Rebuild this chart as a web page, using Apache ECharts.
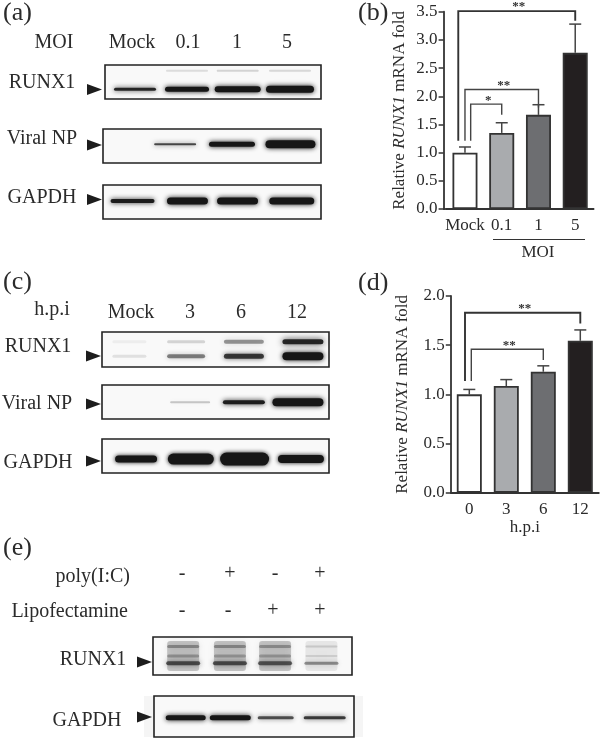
<!DOCTYPE html>
<html>
<head>
<meta charset="utf-8">
<title>RUNX1</title>
<script src="https://cdn.jsdelivr.net/npm/echarts@6/dist/echarts.min.js"></script>
<style>
html,body{margin:0;padding:0;background:#fff}
#chart{width:608px;height:739px}
</style>
</head>
<body>
<div id="chart"></div>
<script>
// bar panels
var moiLabels = ['Mock', '0.1', '1', '5'];
var moiMeans = [1.0, 1.35, 1.67, 2.77];
var moiErrTops = [1.1, 1.53, 1.85, 3.28];
var hpiLabels = ['0', '3', '6', '12'];
var hpiMeans = [1.0, 1.085, 1.23, 1.545];
var hpiErrTops = [1.05, 1.15, 1.29, 1.655];
var barColors = ['#ffffff', '#a9abae', '#6d6e71', '#231f20'];

// significance brackets: from bar, to bar, left foot, top, right foot, stars
var moiBrackets = [
    [0, 3, 1.21, 3.51, 3.34, '**'],
    [0, 2, 1.21, 2.12, 1.80, '**'],
    [0, 1, 1.21, 1.86, 1.67, '*']
];
var hpiBrackets = [
    [0, 3, 1.135, 1.83, 1.72, '**'],
    [0, 2, 1.135, 1.458, 1.35, '**']
];

// blot band darkness per lane, read by eye
var aRunx1Upper = [0.0, 0.12, 0.16, 0.14];
var aRunx1Main = [0.9, 1, 1, 1];
var aNp = [0, 0.75, 1, 1];
var aGapdh = [0.95, 1, 1, 1];
var cRunx1Upper = [0.05, 0.16, 0.42, 0.9];
var cRunx1Lower = [0.1, 0.5, 0.8, 1];
var cNp = [0, 0.22, 0.95, 1];
var cGapdh = [1, 1, 1, 1];
var eRunx1Upper = [0.34, 0.34, 0.3, 0.14];
var eRunx1Mid = [0.28, 0.26, 0.26, 0.12];
var eRunx1Main = [0.66, 0.66, 0.62, 0.42];
var eRunx1Haze = [0.22, 0.22, 0.22, 0.08];
var eGapdh = [1, 1, 0.7, 0.8];

var serif = '"Liberation Serif", "Times New Roman", serif';
var ink = '#2b2b2b';

// box = left, top, width, height; nudge = lane shift in px; rows = one band per lane
var blots = [
    {box: [105, 65, 216, 34], nudge: [3, 1, -2.3, -4], rows: [
        {at: 0.17, vals: aRunx1Upper, thick: [2, 2, 2, 2], wide: [42, 42, 42, 42], blur: 5},
        {at: 0.71, vals: aRunx1Main, thick: [3, 5, 6, 7], wide: [42, 44, 46, 48], blur: 5}
    ]},
    {box: [103, 129, 218, 34], nudge: [0, -9.6, -7.3, -3.3], rows: [
        {at: 0.45, vals: aNp, thick: [1, 2, 5, 8], wide: [40, 42, 46, 50], blur: 5}
    ]},
    {box: [103, 185, 218, 34], nudge: [2.3, 2.7, -1.7, -2], rows: [
        {at: 0.47, vals: aGapdh, thick: [4, 7, 7, 7], wide: [44, 41, 41, 45], blur: 5}
    ]},
    {box: [102, 332, 227, 35], nudge: [-1, -1, 0, 2.3], rows: [
        {at: 0.28, vals: cRunx1Upper, thick: [3, 3, 4, 5], wide: [34, 38, 40, 41], blur: 6},
        {at: 0.69, vals: cRunx1Lower, thick: [3, 4, 5, 8], wide: [34, 38, 40, 41], blur: 5}
    ]},
    {box: [102, 385, 227, 34], nudge: [0, 3, 0, -2.7], rows: [
        {at: 0.51, vals: cNp, thick: [1, 2, 4, 8], wide: [40, 40, 42, 51], blur: 5}
    ]},
    {box: [102, 439, 227, 34], nudge: [5.7, 3.7, 0.7, 0.3], rows: [
        {at: 0.59, vals: cGapdh, thick: [7, 11, 13, 8], wide: [42, 46, 49, 46], blur: 4}
    ]},
    {box: [153, 637, 199, 38], nudge: [5.3, 2.3, -2.3, -5.7], rows: [
        {at: 0.5, vals: eRunx1Haze, thick: [30, 30, 30, 30], wide: [32, 32, 32, 32], blur: 8, square: true},
        {at: 0.25, vals: eRunx1Upper, thick: [3, 3, 3, 2], wide: [32, 32, 32, 32], blur: 5},
        {at: 0.5, vals: eRunx1Mid, thick: [3, 3, 3, 2], wide: [32, 32, 32, 32], blur: 5},
        {at: 0.69, vals: eRunx1Main, thick: [4, 4, 4, 3], wide: [34, 34, 34, 34], blur: 5}
    ]},
    {box: [154, 696, 200, 41], nudge: [6.7, 1.3, -3.3, -4.3], rows: [
        {at: 0.53, vals: eGapdh, thick: [5, 5, 3, 3], wide: [40, 41, 36, 42], blur: 5}
    ]}
];

var grids = [
    {left: 446.6, top: 11.7, width: 147, height: 197.3},
    {left: 450.8, top: 296, width: 148, height: 196.7}
];
var xAxes = [
    barXAxis(0, moiLabels, '', 0),
    barXAxis(1, hpiLabels, 'h.p.i', 25)
];
var yAxes = [
    barYAxis(0, 3.5, 3, 36),
    barYAxis(1, 2, 0, 40)
];
var series = [
    barSeries(0, moiMeans),
    errSeries(0, moiMeans, moiErrTops),
    bracketSeries(0, moiBrackets, [[-6.7, 0], [0, 0], [5.7, 0]]),
    barSeries(1, hpiMeans),
    errSeries(1, hpiMeans, hpiErrTops),
    bracketSeries(1, hpiBrackets, [[-4.3, 0], [2, 0]])
];

function barXAxis(idx, labels, name, gap) {
    return {
        gridIndex: idx,
        type: 'category',
        data: labels,
        name: name,
        nameLocation: 'middle',
        nameGap: gap,
        nameTextStyle: {fontFamily: serif, fontSize: 17, color: ink},
        axisLine: {lineStyle: {color: '#333', width: 1.8}},
        axisTick: {alignWithLabel: true, length: 4, lineStyle: {color: '#333', width: 1.5}},
        axisLabel: {fontFamily: serif, fontSize: 17, color: ink, margin: 8, interval: 0}
    };
}

function barYAxis(idx, max, off, gap) {
    return {
        gridIndex: idx,
        type: 'value',
        min: 0,
        max: max,
        interval: 0.5,
        offset: off,
        name: '{r|Relative }{i|RUNX1}{r| mRNA fold}',
        nameLocation: 'middle',
        nameRotate: 90,
        nameGap: gap,
        nameTextStyle: {
            rich: {
                r: {fontFamily: serif, fontSize: 17, color: ink},
                i: {fontFamily: serif, fontSize: 17, color: ink, fontStyle: 'italic'}
            }
        },
        splitLine: {show: false},
        axisLine: {show: true, lineStyle: {color: '#333', width: 1.8}},
        axisTick: {show: true, length: 5, lineStyle: {color: '#333', width: 1.5}},
        axisLabel: {
            fontFamily: serif, fontSize: 17, color: ink, margin: 6,
            formatter: function (v) { return v.toFixed(1); }
        }
    };
}

function barSeries(idx, means) {
    return {
        type: 'bar',
        xAxisIndex: idx,
        yAxisIndex: idx,
        barWidth: 25,
        data: means.map(function (v, i) {
            return {value: v, itemStyle: {color: barColors[i], borderColor: '#333', borderWidth: 1.8}};
        })
    };
}

function errSeries(idx, means, tops) {
    return {
        type: 'custom',
        xAxisIndex: idx,
        yAxisIndex: idx,
        silent: true,
        data: means.map(function (v, i) { return [i, v, tops[i]]; }),
        encode: {x: 0, y: 2},
        renderItem: function (params, api) {
            var low = api.coord([api.value(0), api.value(1)]);
            var high = api.coord([api.value(0), api.value(2)]);
            var style = {stroke: '#444', lineWidth: 1.5, fill: null};
            return {type: 'group', children: [
                {type: 'line', shape: {x1: low[0], y1: low[1], x2: high[0], y2: high[1]}, style: style},
                {type: 'line', shape: {x1: high[0] - 6, y1: high[1], x2: high[0] + 6, y2: high[1]}, style: style}
            ]};
        }
    };
}

function bracketSeries(idx, rows, shifts) {
    return {
        type: 'custom',
        xAxisIndex: idx,
        yAxisIndex: idx,
        silent: true,
        clip: false,
        data: rows.map(function (r, i) { return [r[0], r[1], r[2], r[3], r[4], i]; }),
        encode: {x: 0, y: 3},
        renderItem: function (params, api) {
            var i = api.value(5);
            var a = api.coord([api.value(0), api.value(2)]);
            var b = api.coord([api.value(1), api.value(4)]);
            var topY = api.coord([api.value(0), api.value(3)])[1];
            var x1 = a[0] + shifts[i][0];
            var x2 = b[0] + shifts[i][1];
            return {type: 'group', children: [
                {type: 'polyline', shape: {points: [[x1, a[1]], [x1, topY], [x2, topY], [x2, b[1]]]},
                    style: {stroke: i === 0 ? '#333' : '#444', lineWidth: i === 0 ? 1.9 : 1.4, fill: null}},
                {type: 'text', x: (x1 + x2) / 2 + 2, y: topY - 4,
                    style: {text: rows[i][5], font: 'bold 13px ' + serif, fill: '#333', align: 'center', verticalAlign: 'middle'}}
            ]};
        }
    };
}

// each blot is its own small grid with hidden lane and height axes
blots.forEach(function (blot) {
    var n = grids.length;
    grids.push({
        left: blot.box[0], top: blot.box[1], width: blot.box[2], height: blot.box[3],
        show: true, backgroundColor: '#f9f9f9', borderColor: '#222', borderWidth: 1.6
    });
    xAxes.push({gridIndex: n, type: 'category', data: [0, 1, 2, 3], show: false});
    yAxes.push({gridIndex: n, type: 'value', min: 0, max: 1, inverse: true, show: false});
    var bands = [];
    blot.rows.forEach(function (row) {
        row.vals.forEach(function (v, lane) {
            if (v > 0) {
                bands.push([lane, row.at, v, row.thick[lane], row.wide[lane], blot.nudge[lane], row.blur, row.square ? 3 : row.thick[lane] / 2]);
            }
        });
    });
    series.push({
        type: 'custom',
        xAxisIndex: n,
        yAxisIndex: n,
        silent: true,
        data: bands,
        encode: {x: 0, y: 1},
        renderItem: function (params, api) {
            var p = api.coord([api.value(0), api.value(1)]);
            var h = api.value(3);
            var w = api.value(4);
            var color = 'rgba(22,22,22,' + api.value(2) + ')';
            return {
                type: 'rect',
                shape: {x: p[0] + api.value(5) - w / 2, y: p[1] - h / 2, width: w, height: h, r: api.value(7)},
                style: {fill: color, shadowBlur: api.value(6), shadowColor: color}
            };
        }
    });
});

function label(text, x, y, size, align) {
    return {
        type: 'text', x: x, y: y, z: 10,
        style: {text: text, font: size + 'px ' + serif, fill: ink, align: align || 'center', verticalAlign: 'middle'}
    };
}

function arrow(x, y) {
    return {
        type: 'polygon', z: 10,
        shape: {points: [[x, y - 5.5], [x + 15, y], [x, y + 5.5]]},
        style: {fill: '#1d1d1d'}
    };
}

var graphics = [
    {type: 'rect', z: -1, silent: true, shape: {x: 144, y: 696, width: 219, height: 41}, style: {fill: '#f5f5f5'}},
    {type: 'line', z: 10, shape: {x1: 443, y1: 209, x2: 447, y2: 209}, style: {stroke: '#333', lineWidth: 1.8}},
    {type: 'line', z: 10, shape: {x1: 493, y1: 239.5, x2: 585, y2: 239.5}, style: {stroke: '#333', lineWidth: 1}},
    label('MOI', 538, 253, 17),
    label('(a)', 3, 13, 26, 'left'), label('(b)', 358, 13, 26, 'left'),
    label('(c)', 3, 282, 26, 'left'), label('(d)', 358, 283, 26, 'left'),
    label('(e)', 3, 548, 26, 'left'),
    label('MOI', 54, 43, 20), label('Mock', 132, 43, 20), label('0.1', 188, 43, 20),
    label('1', 237, 43, 20), label('5', 287, 43, 20),
    label('RUNX1', 42, 83, 20), label('Viral NP', 42, 139, 20), label('GAPDH', 42, 198, 20),
    label('h.p.i', 52, 310, 20), label('Mock', 131, 313, 20), label('3', 190, 313, 20),
    label('6', 241, 313, 20), label('12', 297, 313, 20),
    label('RUNX1', 38, 347, 20), label('Viral NP', 37, 404, 20), label('GAPDH', 38, 463, 20),
    label('poly(I:C)', 130, 577, 20, 'right'), label('Lipofectamine', 128, 612, 20, 'right'),
    label('-', 182, 574, 20), label('+', 230, 574, 20), label('-', 275, 574, 20), label('+', 320, 574, 20),
    label('-', 182, 611, 20), label('-', 228, 611, 20), label('+', 273, 611, 20), label('+', 320, 611, 20),
    label('RUNX1', 93, 660, 20), label('GAPDH', 87, 721, 20),
    arrow(87, 89.5), arrow(87, 145), arrow(87, 199.5),
    arrow(86, 356), arrow(86, 404), arrow(86, 461),
    arrow(137, 662), arrow(137, 717)
];

var mychart = echarts.init(document.getElementById('chart'), null, {renderer: 'canvas'});
var option = {
    backgroundColor: '#fff',
    animation: false,
    grid: grids,
    xAxis: xAxes,
    yAxis: yAxes,
    series: series,
    graphic: graphics
};
mychart.setOption(option);
</script>
</body>
</html>
